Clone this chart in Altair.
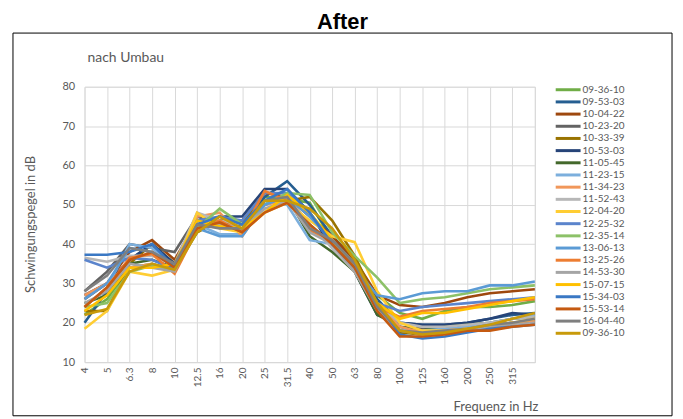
import altair as alt
import pandas as pd

freqs = ["4", "5", "6.3", "8", "10", "12.5", "16", "20", "25", "31.5", "40",
         "50", "63", "80", "100", "125", "160", "200", "250", "315", "400"]

series_keys = ["09-36-10", "09-53-03", "10-04-22", "10-23-20", "10-33-39", "10-53-03",
               "11-05-45", "11-23-15", "11-34-23", "11-52-43", "12-04-20", "12-25-32",
               "12-35-14", "13-06-13", "13-25-26", "14-53-30", "15-07-15", "15-34-03",
               "15-53-14", "16-04-40", "09-36-10 "]

series_colors = ["#70AD47", "#255E91", "#9E480E", "#636363", "#997300", "#264478",
                 "#43682B", "#7CAFDD", "#F1975A", "#B7B7B7", "#FFCD33", "#5B84CC",
                 "#8CC168", "#5B9BD5", "#ED7D31", "#A5A5A5", "#FFC000", "#3A78C4",
                 "#C55A11", "#7F7F7F", "#C89A0A"]

s01 = [22, 26, 34, 35, 33.5, 43, 47, 45, 52, 51.5, 50.5, 41, 35, 27, 22.5, 21, 23, 24, 24, 24.5, 25.5]
s02 = [20, 28, 36, 40, 34, 44, 45.5, 43, 52, 56, 50, 42, 36, 26, 20, 19.5, 19.5, 20, 21, 22, 22.5]
s03 = [26, 30, 38, 41, 36, 46, 46, 46, 53, 52, 47, 42, 36, 27, 24.5, 24, 25, 26.5, 27.5, 28, 28.5]
s04 = [28, 33, 40, 39, 38, 47, 45, 45, 50, 52, 45, 40, 35, 24, 19, 18.5, 18.5, 19, 19.5, 20, 20.5]
s05 = [23, 23, 35, 40, 35, 43, 46, 46, 51, 51, 52, 46, 37, 25, 17.5, 17, 18, 18.5, 19, 20, 20]
s06 = [27, 30, 36, 40, 35, 45, 47, 47, 54, 54, 48, 39, 33, 22, 20, 19.5, 19.5, 20, 21, 22.5, 22]
s07 = [25, 27, 35, 36, 34, 45, 45, 45, 50, 52, 42, 38, 33, 22, 19, 18, 19, 19.5, 20, 21, 21.5]
s08 = [24, 29, 40, 39, 34, 45, 42.5, 42.5, 51, 50, 41, 40, 35, 25, 18, 18, 18.5, 19, 20, 21, 22]
s09 = [27, 30, 34, 35, 33, 47, 48, 42, 50, 51, 44, 40, 33, 25, 19, 17.5, 18, 18.5, 19, 20, 20.5]
s10 = [36.5, 35.5, 37, 37, 35, 48, 46, 45, 48, 52, 45, 39, 33, 25, 20, 19, 19, 19.5, 20, 21, 21.5]
s11 = [18.5, 23, 33, 32, 33.5, 48, 44, 43, 48, 50.5, 46, 42, 40.5, 28, 20, 18, 18, 18.5, 19, 20, 21]
s12 = [36, 34, 36.5, 36, 33.5, 46, 47, 46, 53, 53, 48, 40, 35, 25, 23, 24, 24.5, 25, 25.5, 26, 26.5]
s13 = [24, 25, 33, 34.5, 33.5, 44, 49, 45, 50, 53, 52.5, 43, 37, 31.5, 25, 26, 26.5, 27.5, 28.5, 29, 29.5]
s14 = [26, 30, 39, 38, 34, 44, 42, 42, 50, 52, 47, 41, 34, 27, 26, 27.5, 28, 28, 29.5, 29.5, 30.5]
s15 = [24, 29, 36.5, 37.5, 32.5, 43.5, 46, 43, 53.5, 51, 43.5, 41, 34, 24, 21.5, 23, 23.5, 24, 25, 25.5, 26]
s16 = [25, 28, 35, 34, 33, 45, 45, 44, 49, 51, 43, 40, 33, 23, 18, 17, 17.5, 18, 19, 19.5, 20]
s17 = [23, 27, 34, 34, 35, 46, 44.5, 44, 48, 52.5, 48, 41, 34, 25, 21, 22.5, 22.5, 23.5, 24.5, 25.5, 26.5]
s18 = [37.3, 37.3, 38, 40, 34, 45, 47, 45, 51, 54, 48, 40, 34, 25, 17, 16, 16.5, 17.5, 18.5, 19, 19.5]
s19 = [24, 29, 36, 38, 34, 44, 45.5, 43, 48, 50.5, 45, 40, 34, 23, 16.5, 16.5, 17, 18, 18, 19, 19.5]
s20 = [28, 32, 39, 38, 35, 45, 44, 44, 51, 52, 44, 41, 35, 24, 18, 17.5, 18, 18.5, 19.5, 20, 21]
s21 = [22, 23.5, 33, 35, 33.5, 43, 47, 44, 51, 51, 49, 44, 36, 25, 18, 17, 17.5, 18.5, 19.5, 21, 22.5]

all_series = [s01, s02, s03, s04, s05, s06, s07, s08, s09, s10, s11,
              s12, s13, s14, s15, s16, s17, s18, s19, s20, s21]

rows = []
for key, vals in zip(series_keys, all_series):
    for i, (f, v) in enumerate(zip(freqs, vals)):
        rows.append({"series": key, "freq": f, "idx": i, "level": v})
df = pd.DataFrame(rows)

TXT = "#595959"
FONT = "Lato"

lines = alt.Chart(df).mark_line(strokeWidth=2.6, clip=False).encode(
    x=alt.X("freq:O", sort=freqs,
            scale=alt.Scale(type="point", padding=0),
            axis=alt.Axis(title="Frequenz in Hz", labelAngle=270, labelFontSize=10,
                          labelColor=TXT, labelFont=FONT, labelPadding=5,
                          labelExpr="datum.label == '400' ? '' : datum.label",
                          ticks=False, grid=True, gridColor="#d9d9d9",
                          domainColor="#d9d9d9", titleFont=FONT, titleFontSize=13,
                          titleFontWeight="normal", titleColor=TXT,
                          titleX=456, titleY=45, titleAlign="right",
                          titleBaseline="middle")),
    y=alt.Y("level:Q",
            scale=alt.Scale(domain=[10, 80], nice=False, zero=False),
            axis=alt.Axis(title="Schwingungspegel in dB", values=[10, 20, 30, 40, 50, 60, 70, 80],
                          labelFontSize=11, labelColor=TXT, labelFont=FONT,
                          labelPadding=10, ticks=False, domain=False,
                          gridColor="#d9d9d9", titleFont=FONT, titleFontSize=13,
                          titleFontWeight="normal", titleColor=TXT,
                          titleX=-47, titleY=138)),
    color=alt.Color("series:N",
                    scale=alt.Scale(domain=series_keys, range=series_colors),
                    legend=alt.Legend(title=None, orient="none", legendX=484, legendY=-2,
                                      padding=0, symbolType="M-4.29,0H2.86", symbolSize=49,
                                      symbolStrokeWidth=3, labelFontSize=10,
                                      labelFont=FONT, labelColor=TXT, rowPadding=0.25,
                                      labelOffset=7)),
    order=alt.Order("idx:Q"),
)

frame = alt.Chart(pd.DataFrame({"a": [0]})).mark_rect(
    fill="transparent", stroke="#000000", strokeWidth=1, clip=False
).encode(
    x=alt.value(-72), x2=alt.value(591), y=alt.value(-54), y2=alt.value(331)
)

subtitle = alt.Chart(pd.DataFrame({"t": ["nach Umbau"]})).mark_text(
    align="left", baseline="middle", font=FONT, fontSize=14, color=TXT, clip=False
).encode(
    x=alt.value(3), y=alt.value(-29), text="t:N"
)

chart = alt.layer(frame, lines, subtitle).properties(
    width=453, height=277,
    title=alt.TitleParams("After", anchor="middle", dx=33, offset=-1, fontSize=22,
                          font="Liberation Sans", fontWeight="bold", color="#000000"),
    autosize=alt.AutoSizeParams(type="none"),
    padding={"left": 77, "top": 78, "right": 141, "bottom": 54},
).configure_view(stroke="transparent").configure(background="white")

chart.save("out.html", embed_options={"renderer": "svg", "actions": False})
